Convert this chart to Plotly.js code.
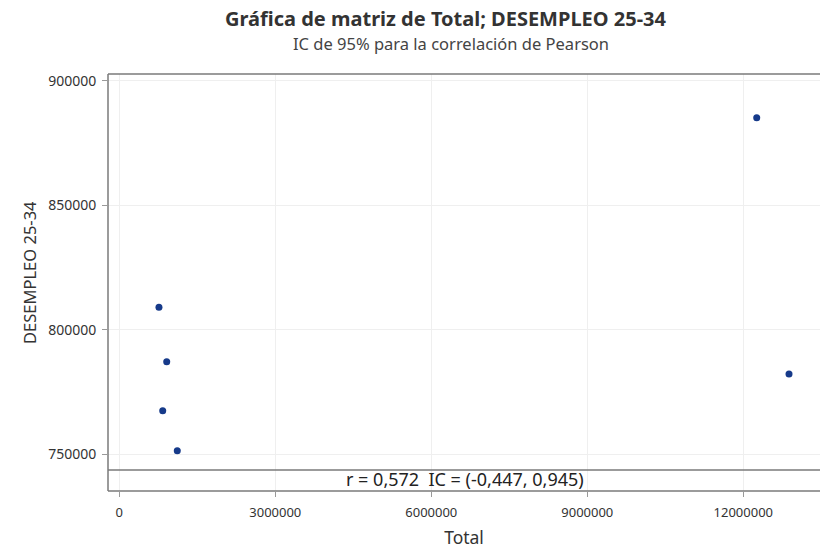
<!DOCTYPE html>
<html>
<head>
<meta charset="utf-8">
<script src="https://cdn.plot.ly/plotly-3.0.1.min.js"></script>
<style>html,body{margin:0;padding:0;background:#fff;}#chart{width:821px;height:552px;}</style>
</head>
<body>
<div id="chart"></div>
<script>
// Data
const totalValues = [763000, 912000, 835000, 1115000, 12258000, 12879000];
const desempleoValues = [809000, 787200, 767500, 751400, 885100, 782200];
const yTickValues = [750000, 800000, 850000, 900000];
const xTickValues = [0, 3000000, 6000000, 9000000, 12000000];
const chartTitle = 'Gráfica de matriz de Total; DESEMPLEO 25-34';
const chartSubtitle = 'IC de 95% para la correlación de Pearson';
const xTitle = 'Total';
const yTitle = 'DESEMPLEO 25-34';
const statsText = 'r = 0,572  IC = (-0,447, 0,945)';
const separatorValue = 743700;

const FONT = 'Noto Sans, Open Sans, sans-serif';
const frameColor = '#7a7a7a';

const trace = {
  x: totalValues,
  y: desempleoValues,
  type: 'scatter',
  mode: 'markers',
  marker: {color: '#163a8a', size: 7},
  hoverinfo: 'x+y'
};

const layout = {
  width: 821,
  height: 552,
  margin: {l: 108, r: 1, t: 74, b: 61},
  paper_bgcolor: '#ffffff',
  plot_bgcolor: '#ffffff',
  showlegend: false,
  font: {family: FONT, color: '#333333'},
  xaxis: {
    range: [-217000, 13475000],
    tickvals: xTickValues,
    ticktext: xTickValues.map(String),
    ticks: 'outside', ticklen: 5, tickcolor: '#999999',
    ticklabelstandoff: 4,
    tickfont: {size: 13, color: '#333333', family: FONT},
    showgrid: true, gridcolor: '#efefef', gridwidth: 1,
    zeroline: false, showline: false,
    title: {text: xTitle, font: {size: 17.5, color: '#333333', family: FONT}, standoff: 12}
  },
  yaxis: {
    range: [735265, 902690],
    tickvals: yTickValues,
    ticktext: yTickValues.map(String),
    ticks: 'outside', ticklen: 5, tickcolor: '#999999',
    ticklabelstandoff: 3,
    tickfont: {size: 14, color: '#333333', family: FONT},
    showgrid: true, gridcolor: '#efefef', gridwidth: 1,
    zeroline: false, showline: false
  },
  shapes: [
    {type: 'line', xref: 'paper', yref: 'paper', x0: 0, x1: 1, y0: 1, y1: 1, line: {color: frameColor, width: 1.5}},
    {type: 'line', xref: 'paper', yref: 'paper', x0: 0, x1: 1, y0: 0, y1: 0, line: {color: frameColor, width: 1.5}},
    {type: 'line', xref: 'paper', yref: 'paper', x0: 0, x1: 0, y0: 0, y1: 1, line: {color: frameColor, width: 1.5}},
    {type: 'line', xref: 'paper', yref: 'y', x0: 0, x1: 1, y0: separatorValue, y1: separatorValue, line: {color: frameColor, width: 1.5}}
  ],
  annotations: [
    {text: chartTitle, xref: 'paper', yref: 'paper', x: 0.4747, y: 1.1319, xanchor: 'center', yanchor: 'middle',
     showarrow: false, font: {size: 20, color: '#333333', family: FONT, weight: 'bold'}},
    {text: chartSubtitle, xref: 'paper', yref: 'paper', x: 0.4817, y: 1.0743, xanchor: 'center', yanchor: 'middle',
     showarrow: false, font: {size: 16.5, color: '#444444', family: FONT}},
    {text: yTitle, xref: 'paper', yref: 'paper', x: -0.1096, y: 0.5252, xanchor: 'center', yanchor: 'middle',
     textangle: -90, showarrow: false, font: {size: 16.5, color: '#333333', family: FONT}},
    {text: statsText, xref: 'paper', yref: 'paper', x: 0.501, y: 0, xanchor: 'center', yanchor: 'bottom', yshift: -2,
     showarrow: false, font: {size: 18, color: '#222222', family: FONT}}
  ]
};

Plotly.newPlot('chart', [trace], layout, {displayModeBar: false, staticPlot: true});
</script>
</body>
</html>
